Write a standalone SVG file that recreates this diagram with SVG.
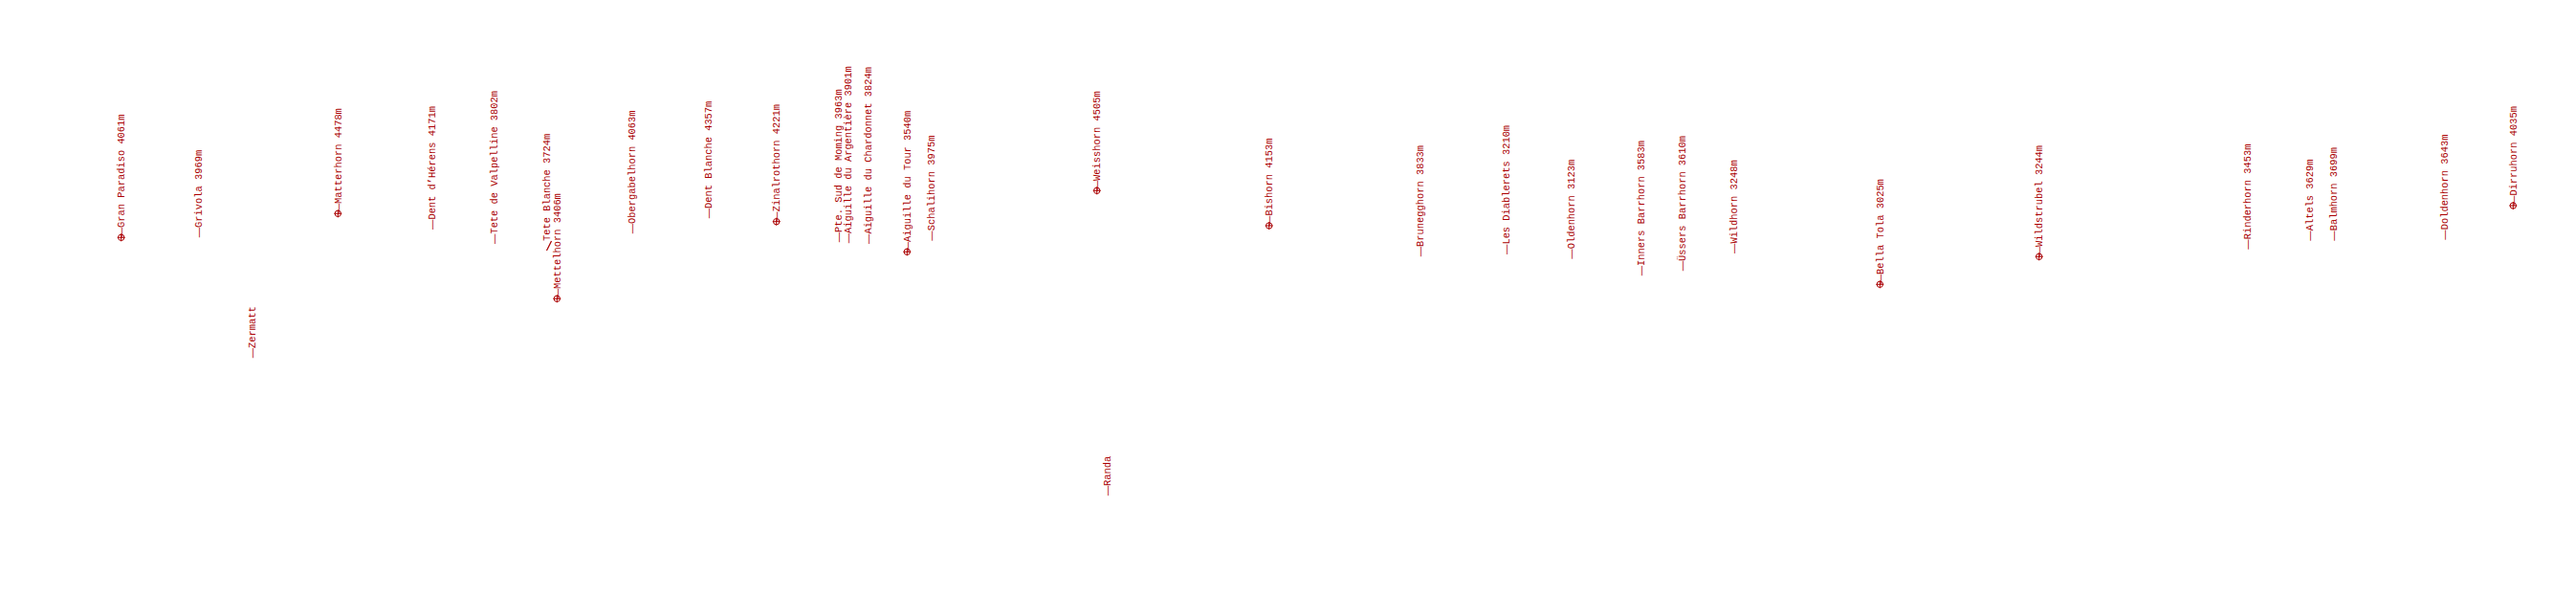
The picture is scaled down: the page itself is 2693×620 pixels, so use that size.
<svg xmlns="http://www.w3.org/2000/svg" width="2693" height="620" viewBox="0 0 2693 620">
<style>
text{font-family:"Liberation Mono","DejaVu Sans Mono",monospace;font-size:10.4px;fill:#aa0000}
.d{font-family:"Liberation Sans",sans-serif}
.pk{fill:none;stroke:#aa0000;stroke-width:1}
.ld{stroke:#aa0000;stroke-width:1.2;fill:none}
</style>
<defs>
<g id="mk"><circle class="pk" r="3.2"/><path class="pk" d="M-4 0H4M0 -4V4"/></g>
</defs>
<rect width="2693" height="620" fill="#fff"/>
<g id="connectors">
<line class="ld" x1="571.5" y1="262" x2="576.5" y2="252"/>
</g>
<g id="gran-paradiso" transform="translate(126.7,248.3)"><use href="#mk"/><text transform="rotate(-90)" y="3.6"><tspan class="d">—</tspan>Gran Paradiso 4061m</text></g>
<g id="grivola" transform="translate(207.3,248.3)"><text transform="rotate(-90)" y="3.6"><tspan class="d">—</tspan>Grivola 3969m</text></g>
<g id="zermatt" transform="translate(263.3,374.3)"><text transform="rotate(-90)" y="3.6"><tspan class="d">—</tspan>Zermatt</text></g>
<g id="matterhorn" transform="translate(353.3,223.3)"><use href="#mk"/><text transform="rotate(-90)" y="3.6"><tspan class="d">—</tspan>Matterhorn 4478m</text></g>
<g id="dent-d-herens" transform="translate(451.7,240)"><text transform="rotate(-90)" y="3.6"><tspan class="d">—</tspan>Dent d’Hérens 4171m</text></g>
<g id="tete-de-valpelline" transform="translate(516.7,255)"><text transform="rotate(-90)" y="3.6"><tspan class="d">—</tspan>Tete de Valpelline 3802m</text></g>
<g id="tete-blanche" transform="translate(571.7,252)"><text transform="rotate(-90)" y="3.6">Tete Blanche 3724m</text></g>
<g id="mettelhorn" transform="translate(582.3,312.3)"><use href="#mk"/><text transform="rotate(-90)" y="3.6"><tspan class="d">—</tspan>Mettelhorn 3406m</text></g>
<g id="obergabelhorn" transform="translate(660.7,244.3)"><text transform="rotate(-90)" y="3.6"><tspan class="d">—</tspan>Obergabelhorn 4063m</text></g>
<g id="dent-blanche" transform="translate(740,228.3)"><text transform="rotate(-90)" y="3.6"><tspan class="d">—</tspan>Dent Blanche 4357m</text></g>
<g id="zinalrothorn" transform="translate(811.7,231.7)"><use href="#mk"/><text transform="rotate(-90)" y="3.6"><tspan class="d">—</tspan>Zinalrothorn 4221m</text></g>
<g id="pte-sud-de-moming" transform="translate(876.7,253.3)"><text transform="rotate(-90)" y="3.6"><tspan class="d">—</tspan>Pte. Sud de Moming 3963m</text></g>
<g id="aiguille-argentiere" transform="translate(886.7,254.3)"><text transform="rotate(-90)" y="3.6"><tspan class="d">—</tspan>Aiguille du Argentière 3901m</text></g>
<g id="aiguille-chardonnet" transform="translate(907.7,255)"><text transform="rotate(-90)" y="3.6"><tspan class="d">—</tspan>Aiguille du Chardonnet 3824m</text></g>
<g id="aiguille-du-tour" transform="translate(948.3,263.3)"><use href="#mk"/><text transform="rotate(-90)" y="3.6"><tspan class="d">—</tspan>Aiguille du Tour 3540m</text></g>
<g id="schalihorn" transform="translate(973.3,251.7)"><text transform="rotate(-90)" y="3.6"><tspan class="d">—</tspan>Schalihorn 3975m</text></g>
<g id="weisshorn" transform="translate(1146.7,199.3)"><use href="#mk"/><text transform="rotate(-90)" y="3.6"><tspan class="d">—</tspan>Weisshorn 4505m</text></g>
<g id="randa" transform="translate(1157.3,518.3)"><text transform="rotate(-90)" y="3.6"><tspan class="d">—</tspan>Randa</text></g>
<g id="bishorn" transform="translate(1326.7,236)"><use href="#mk"/><text transform="rotate(-90)" y="3.6"><tspan class="d">—</tspan>Bishorn 4153m</text></g>
<g id="brunegghorn" transform="translate(1484.3,268.3)"><text transform="rotate(-90)" y="3.6"><tspan class="d">—</tspan>Brunegghorn 3833m</text></g>
<g id="les-diablerets" transform="translate(1574,266)"><text transform="rotate(-90)" y="3.6"><tspan class="d">—</tspan>Les Diablerets 3210m</text></g>
<g id="oldenhorn" transform="translate(1642.3,270.7)"><text transform="rotate(-90)" y="3.6"><tspan class="d">—</tspan>Oldenhorn 3123m</text></g>
<g id="inners-barrhorn" transform="translate(1715.3,288.3)"><text transform="rotate(-90)" y="3.6"><tspan class="d">—</tspan>Inners Barrhorn 3583m</text></g>
<g id="ussers-barrhorn" transform="translate(1758.3,283.3)"><text transform="rotate(-90)" y="3.6"><tspan class="d">—</tspan>Üssers Barrhorn 3610m</text></g>
<g id="wildhorn" transform="translate(1812.7,265)"><text transform="rotate(-90)" y="3.6"><tspan class="d">—</tspan>Wildhorn 3248m</text></g>
<g id="bella-tola" transform="translate(1965.3,297.3)"><use href="#mk"/><text transform="rotate(-90)" y="3.6"><tspan class="d">—</tspan>Bella Tola 3025m</text></g>
<g id="wildstrubel" transform="translate(2131.7,268.3)"><use href="#mk"/><text transform="rotate(-90)" y="3.6"><tspan class="d">—</tspan>Wildstrubel 3244m</text></g>
<g id="rinderhorn" transform="translate(2349,260.7)"><text transform="rotate(-90)" y="3.6"><tspan class="d">—</tspan>Rinderhorn 3453m</text></g>
<g id="altels" transform="translate(2414,251.7)"><text transform="rotate(-90)" y="3.6"><tspan class="d">—</tspan>Altels 3629m</text></g>
<g id="balmhorn" transform="translate(2439.3,251.7)"><text transform="rotate(-90)" y="3.6"><tspan class="d">—</tspan>Balmhorn 3699m</text></g>
<g id="doldenhorn" transform="translate(2555,250.7)"><text transform="rotate(-90)" y="3.6"><tspan class="d">—</tspan>Doldenhorn 3643m</text></g>
<g id="dirruhorn" transform="translate(2627.3,215)"><use href="#mk"/><text transform="rotate(-90)" y="3.6"><tspan class="d">—</tspan>Dirruhorn 4035m</text></g>
</svg>
